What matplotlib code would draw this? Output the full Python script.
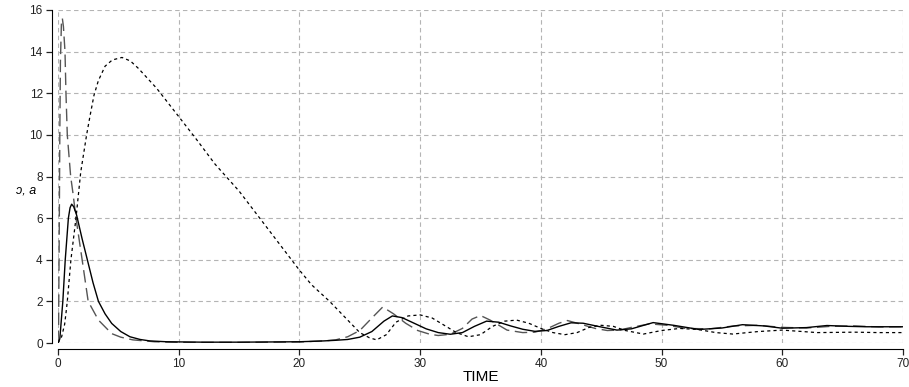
import matplotlib

matplotlib.use("Agg")
import matplotlib.pyplot as plt

# long-dash series
t_long = [0, 0.05, 0.1, 0.15, 0.2, 0.28, 0.36, 0.45, 0.58, 0.66, 0.77, 1.05, 1.24,
          1.49, 2.0, 2.5, 3.35, 4.45, 5.2, 6.2, 8, 10, 15, 20, 22, 23, 24, 25, 26,
          26.9, 27.8, 28.8, 29.8, 30.8, 31.5, 32.5, 33.5, 34.3, 35.0, 35.8, 37.2,
          38.5, 39.5, 40.5, 41.5, 42.2, 43.2, 44.5, 45.5, 46.5, 47.5, 49, 50.5, 52,
          54, 56, 58, 60, 62, 64, 66, 68, 70]
v_long = [0, 1, 5, 10, 13.5, 15.3, 15.6, 15.2, 14, 12, 10, 8, 7.2,
          6, 4, 2, 1.1, 0.45, 0.28, 0.15, 0.06, 0.03, 0.03, 0.05, 0.1, 0.15, 0.3, 0.6, 1.2,
          1.73, 1.4, 0.95, 0.6, 0.42, 0.36, 0.42, 0.7, 1.15, 1.32, 1.1, 0.62,
          0.5, 0.52, 0.68, 0.95, 1.08, 0.92, 0.7, 0.6, 0.62, 0.75, 0.92, 0.85, 0.7,
          0.68, 0.82, 0.85, 0.75, 0.72, 0.8, 0.82, 0.77, 0.78]

# solid series
t_solid = [0, 0.15, 0.4, 0.6, 0.86, 1.0, 1.13, 1.3, 1.54, 2.0, 2.43, 2.9, 3.35, 3.9,
           4.45, 5.2, 5.96, 6.8, 7.6, 9, 12, 15, 20, 22, 23, 24, 25, 26, 27, 27.7,
           28.5, 29.5, 30.5, 31.5, 32.5, 33.5, 34.5, 35.5, 36.5, 37.5, 38.5, 39.5,
           40.5, 41.5, 42.5, 43.5, 44.9, 46.3, 47.5, 49.3, 51, 53.1, 55, 56.7, 58.5,
           60, 62, 63.7, 65.5, 67, 70]
v_solid = [0, 0.2, 2, 4, 6, 6.5, 6.67, 6.55, 6.15, 5.0, 4, 2.9, 2, 1.4,
           0.94, 0.55, 0.3, 0.17, 0.1, 0.06, 0.04, 0.04, 0.06, 0.1, 0.13, 0.17, 0.28, 0.55, 1.05, 1.3,
           1.22, 0.95, 0.68, 0.5, 0.42, 0.5, 0.8, 1.05, 1.0, 0.82, 0.66, 0.56,
           0.6, 0.8, 0.97, 0.95, 0.78, 0.62, 0.68, 0.98, 0.85, 0.65, 0.72, 0.88, 0.82,
           0.71, 0.74, 0.84, 0.8, 0.78, 0.78]

# short-dash series
t_short = [0, 0.3, 0.55, 0.66, 0.77, 1.07, 1.49, 1.88, 2.37, 2.65, 2.98, 3.34, 3.9,
           4.5, 5.3, 6.0, 6.65, 8.17, 10, 11.5, 13, 15, 17.5, 20, 21, 22.5, 24, 25,
           25.8, 26.4, 27.2, 28, 29, 30, 31, 32, 33, 34, 35, 36, 37, 38, 39, 40, 41,
           42, 43, 44, 45, 46, 47, 48.5, 50, 51.5, 53, 54.5, 55.9, 58, 60, 62.9,
           66, 68, 70]
v_short = [0, 0.3, 0.9, 1.43, 2, 4, 6, 8.2, 10, 10.9, 11.9, 12.6, 13.3,
           13.6, 13.72, 13.55, 13.2, 12.24, 10.88, 9.76, 8.6, 7.3, 5.4, 3.5, 2.8, 2.0, 1.1, 0.5,
           0.25, 0.15, 0.4, 1.0, 1.3, 1.35, 1.2, 0.85, 0.5, 0.3, 0.4, 0.8, 1.05, 1.1, 0.95, 0.7, 0.5,
           0.4, 0.5, 0.75, 0.85, 0.8, 0.6, 0.43, 0.6, 0.7, 0.65, 0.5, 0.43, 0.55, 0.62, 0.5,
           0.52, 0.5, 0.5]

x_ticks = [0, 10, 20, 30, 40, 50, 60, 70]
y_ticks = [0, 2, 4, 6, 8, 10, 12, 14, 16]

plt.rcParams["font.family"] = ["Liberation Sans", "DejaVu Sans"]

fig = plt.figure(figsize=(9.09, 3.87), dpi=100)
ax = fig.add_axes([58 / 909, 44 / 387, 845 / 909, 333 / 387])

ax.plot(t_long, v_long, color="#555555", lw=1.0, dashes=(9, 4))
ax.plot(t_solid, v_solid, color="black", lw=1.0)
ax.plot(t_short, v_short, color="black", lw=0.9, dashes=(2.5, 2.5))

ax.set_xlim(0, 70)
ax.set_ylim(0, 16)
ax.set_xticks(x_ticks)
ax.set_yticks(y_ticks)
ax.grid(True, color="#b4b4b4", linestyle=(0, (4, 3)), linewidth=0.8)
ax.set_axisbelow(True)

for side in ("top", "right"):
    ax.spines[side].set_visible(False)
ax.spines["left"].set_position(("outward", 4.5))
ax.spines["bottom"].set_position(("outward", 4.5))
ax.tick_params(direction="out", length=4.5, width=0.9, labelsize=8.5, pad=2, colors="#222222")

ax.set_xlabel("TIME", fontsize=11, labelpad=0)
fig.text(16 / 909, 1 - 190 / 387, "ɔ, a", fontsize=9, style="italic", va="center", ha="left")

fig.savefig("out.png", dpi=100)
